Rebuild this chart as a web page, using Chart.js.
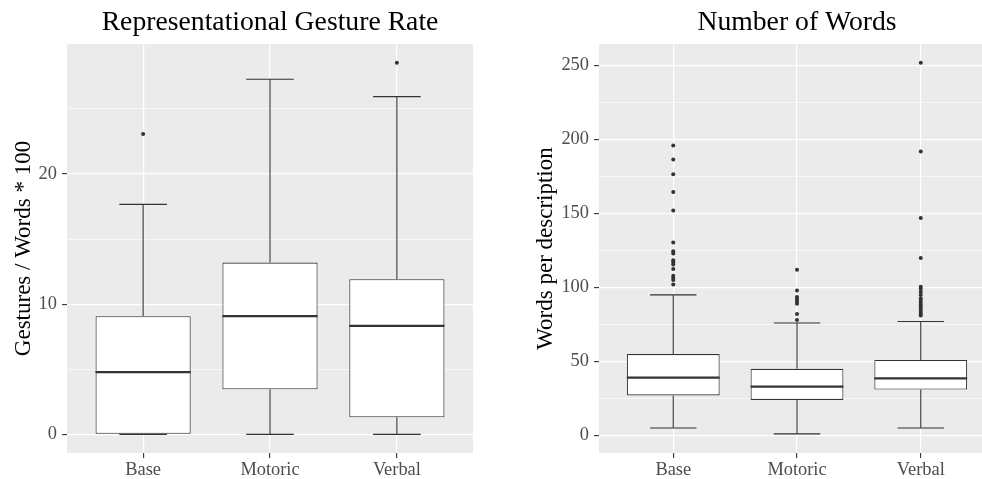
<!DOCTYPE html>
<html>
<head>
<meta charset="utf-8">
<script src="https://cdn.jsdelivr.net/npm/chart.js@4/dist/chart.umd.min.js"></script>
<style>
  html, body { margin: 0; padding: 0; background: #ffffff; overflow: hidden; width: 982px; height: 479px; }
  #leftWrap { position: absolute; left: 0; top: 0; width: 490px; height: 479px; overflow: hidden; }
  #rightWrap { position: absolute; left: 490px; top: 0; width: 492px; height: 479px; overflow: hidden; }
  canvas { display: block; }
</style>
</head>
<body>
<div id="leftWrap"><canvas id="left" width="490" height="479"></canvas></div>
<div id="rightWrap"><canvas id="right" width="520" height="479"></canvas></div>
<script>
// ---------- data ----------
const categories = ['Base', 'Motoric', 'Verbal'];

// Representational Gesture Rate (Gestures / Words * 100)
const gestureLow      = [0, 0, 0];
const gestureQ1       = [0, 3.46, 1.31];
const gestureMedian   = [4.79, 9.08, 8.33];
const gestureQ3       = [9.08, 13.2, 11.92];
const gestureHigh     = [17.67, 27.28, 25.95];
const gestureOutliers = [[23.08], [], [28.56]];
const gestureMajorTicks = [0, 10, 20];
const gestureMinorTicks = [5, 15, 25];

// Number of Words (Words per description)
const wordsLow      = [5, 1, 5];
const wordsQ1       = [27, 24, 31];
const wordsMedian   = [39, 33, 38.5];
const wordsQ3       = [55, 45, 51];
const wordsHigh     = [95, 76, 77];
const wordsOutliers = [
  [196, 186.5, 176.5, 164.5, 152, 130.5, 124.5, 123, 118.5, 117, 115.5, 112.5, 108, 106.5, 105, 102],
  [112, 98, 93.5, 92, 90.5, 89, 82, 78],
  [252, 192, 147, 120, 100.5, 99, 97, 95, 92.5, 91, 89.5, 88, 86.5, 85, 83.5, 82, 81]
];
const wordsMajorTicks = [0, 50, 100, 150, 200, 250];
const wordsMinorTicks = [25, 75, 125, 175, 225];

// ---------- helpers ----------
const INK = '#333333';
const SERIF = "'Liberation Serif', 'Times New Roman', serif";
const BOX_WIDTH = 0.75;      // fraction of category spacing
const CAP_HALF = 0.1875;     // half width of whisker caps in category units

function boxDatasets(low, q1, med, q3, high, outliers) {
  const pos = categories.map((c, i) => i + 1);
  const whisk = [];
  const meds = [];
  const outs = [];
  pos.forEach((x, i) => {
    whisk.push({x: x, y: low[i]}, {x: x, y: q1[i]}, {x: x, y: null});
    whisk.push({x: x, y: q3[i]}, {x: x, y: high[i]}, {x: x, y: null});
    whisk.push({x: x - CAP_HALF, y: low[i]}, {x: x + CAP_HALF, y: low[i]}, {x: x, y: null});
    whisk.push({x: x - CAP_HALF, y: high[i]}, {x: x + CAP_HALF, y: high[i]}, {x: x, y: null});
    meds.push({x: x - BOX_WIDTH / 2, y: med[i]}, {x: x + BOX_WIDTH / 2, y: med[i]}, {x: x, y: null});
    outliers[i].forEach(v => outs.push({x: x, y: v}));
  });
  return [
    { type: 'scatter', data: outs, pointRadius: 2, pointHoverRadius: 2,
      backgroundColor: INK, borderWidth: 0, order: 0 },
    { type: 'line', data: meds, borderColor: INK, borderWidth: 2.2, pointRadius: 0,
      spanGaps: false, fill: false, tension: 0, order: 1 },
    { type: 'bar', data: pos.map((x, i) => ({x: x, y: [q1[i], q3[i]]})),
      backgroundColor: '#ffffff', borderColor: INK, borderWidth: 1.1, borderSkipped: false,
      categoryPercentage: BOX_WIDTH, barPercentage: 1, order: 2 },
    { type: 'line', data: whisk, borderColor: INK, borderWidth: 1.1, pointRadius: 0,
      spanGaps: false, fill: false, tension: 0, order: 3 }
  ];
}

const panelBg = {
  id: 'panelBg',
  beforeDraw(chart) {
    const {ctx, chartArea: a} = chart;
    ctx.save();
    ctx.fillStyle = '#EBEBEB';
    ctx.fillRect(a.left, a.top, a.right - a.left, a.bottom - a.top);
    ctx.restore();
  }
};

function makeChart(canvasId, opts) {
  const majors = opts.majorTicks, minors = opts.minorTicks;
  const allTicks = majors.concat(minors).sort((a, b) => a - b);
  return new Chart(document.getElementById(canvasId), {
    type: 'scatter',
    data: { datasets: boxDatasets(opts.low, opts.q1, opts.med, opts.q3, opts.high, opts.outliers) },
    plugins: [panelBg],
    options: {
      responsive: false,
      animation: false,
      devicePixelRatio: 1,
      layout: { padding: { left: 0, right: opts.padRight, top: 0, bottom: 0 } },
      plugins: {
        legend: { display: false },
        tooltip: { enabled: false },
        title: {
          display: true, text: opts.title, color: '#000000', fullSize: false,
          font: { family: SERIF, size: 27.7, weight: 'normal' },
          padding: { top: 6.5, bottom: 4.3 }
        }
      },
      scales: {
        x: {
          type: 'linear', position: 'bottom', min: 0.4, max: 3.6, offset: false,
          afterBuildTicks: s => { s.ticks = categories.map((c, i) => ({value: i + 1})); },
          afterFit: s => { s.height = 26; },
          ticks: {
            autoSkip: false, maxRotation: 0, padding: 1.5, color: '#4d4d4d',
            font: { family: SERIF, size: 18.4 },
            callback: v => categories[Math.round(v) - 1]
          },
          grid: { color: '#ffffff', lineWidth: 1.2, tickColor: INK, tickLength: 5, tickWidth: 1.1, offset: false },
          border: { display: false }
        },
        y: {
          type: 'linear', position: 'left', min: opts.yMin, max: opts.yMax,
          afterBuildTicks: s => { s.ticks = allTicks.map(v => ({value: v})); },
          afterFit: s => { s.width = opts.yWidth; },
          ticks: {
            autoSkip: false, padding: 5, color: '#4d4d4d',
            font: { family: SERIF, size: 18.4 },
            callback: v => majors.includes(v) ? String(v) : ''
          },
          grid: {
            color: '#ffffff',
            lineWidth: c => majors.includes(c.tick.value) ? 1.2 : 0.6,
            tickColor: c => majors.includes(c.tick.value) ? INK : 'rgba(0,0,0,0)',
            tickLength: 5, tickWidth: 1.1
          },
          border: { display: false },
          title: {
            display: true, text: opts.yTitle, color: '#000000',
            font: { family: SERIF, size: 23 },
            padding: { top: opts.yTitlePad, bottom: 0 }
          }
        }
      }
    }
  });
}

makeChart('left', {
  title: 'Representational Gesture Rate',
  yTitle: 'Gestures / Words * 100',
  low: gestureLow, q1: gestureQ1, med: gestureMedian, q3: gestureQ3, high: gestureHigh,
  outliers: gestureOutliers,
  majorTicks: gestureMajorTicks, minorTicks: gestureMinorTicks,
  yMin: -1.43, yMax: 29.99, yWidth: 67, padRight: 17, yTitlePad: 10
});

makeChart('right', {
  title: 'Number of Words',
  yTitle: 'Words per description',
  low: wordsLow, q1: wordsQ1, med: wordsMedian, q3: wordsQ3, high: wordsHigh,
  outliers: wordsOutliers,
  majorTicks: wordsMajorTicks, minorTicks: wordsMinorTicks,
  yMin: -11.9, yMax: 264.6, yWidth: 109, padRight: 15, yTitlePad: 42
});
</script>
</body>
</html>
